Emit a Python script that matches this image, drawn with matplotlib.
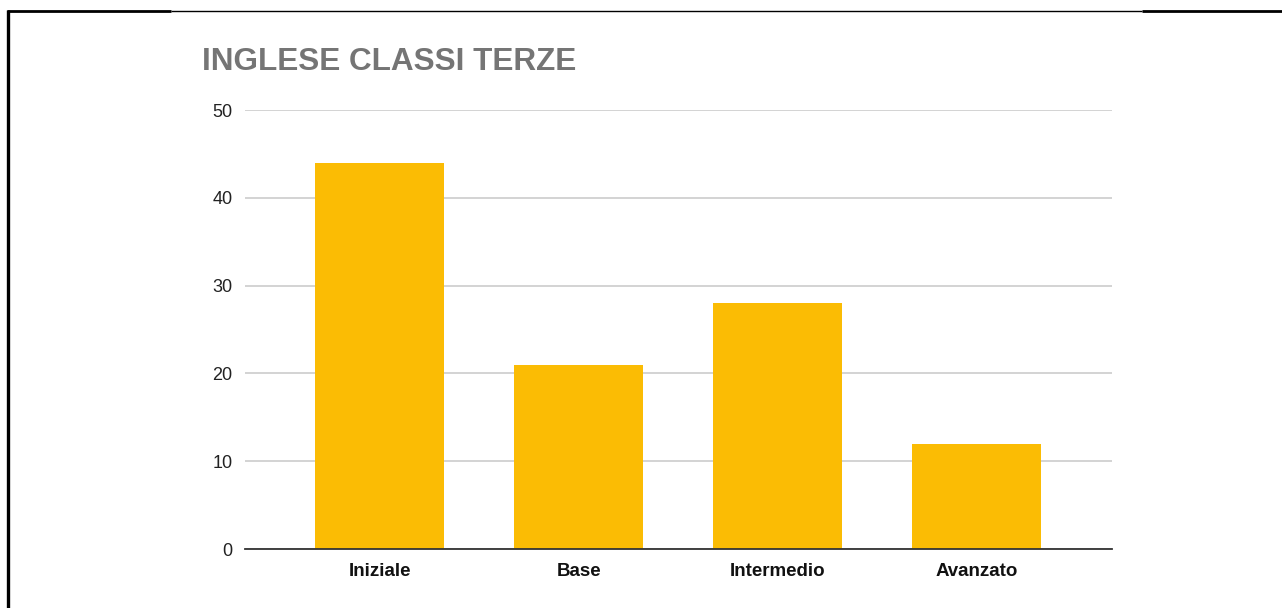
import matplotlib.pyplot as plt
from matplotlib.lines import Line2D

livelli = ['Iniziale', 'Base', 'Intermedio', 'Avanzato']
alunni = [44, 21, 28, 12]
yticks = [0, 10, 20, 30, 40, 50]

plt.rcParams['font.family'] = ['Liberation Sans', 'DejaVu Sans']

W, H = 1282, 608
fig = plt.figure(figsize=(W / 100, H / 100), dpi=100)

# plot area in pixel units
left, right, top, bottom = 245, 1112, 110, 549
ax = fig.add_axes([left / W, 1 - bottom / H, (right - left) / W, (bottom - top) / H])

x = range(len(livelli))
ax.bar(x, alunni, width=0.648, color='#fbbc04', zorder=3)
ax.set_xlim(-0.676, 3.68)
ax.set_ylim(0, 50)
ax.set_yticks(yticks)
ax.yaxis.grid(True, color='#cccccc', linewidth=1.2, zorder=0)
ax.set_xticks(list(x))
ax.set_xticklabels(livelli, fontsize=13.5, fontweight='bold', color='#111111')
ax.tick_params(axis='x', length=0, pad=10)
ax.tick_params(axis='y', length=0, pad=9, labelsize=13, labelcolor='#222222')
for s in ['top', 'right', 'left']:
    ax.spines[s].set_visible(False)
ax.spines['bottom'].set_color('#333333')
ax.spines['bottom'].set_linewidth(1.3)
ax.spines['bottom'].set_zorder(4)

fig.text(202 / W, 1 - 62 / H, 'INGLESE CLASSI TERZE', fontsize=22.7, fontweight='bold',
         color='#757575', va='center', ha='left')

# page frame lines
def px_line(xs, ys, lw):
    fig.add_artist(Line2D([v / W for v in xs], [1 - v / H for v in ys],
                          color='black', linewidth=lw, transform=fig.transFigure,
                          solid_capstyle='butt'))

px_line([8, 8], [10, 608], 2.4)
px_line([7, 171], [11, 11], 2.0)
px_line([171, 1142], [10.5, 10.5], 1.0)
px_line([1142, 1282], [11, 11], 2.0)

fig.savefig('out.png', dpi=100)
